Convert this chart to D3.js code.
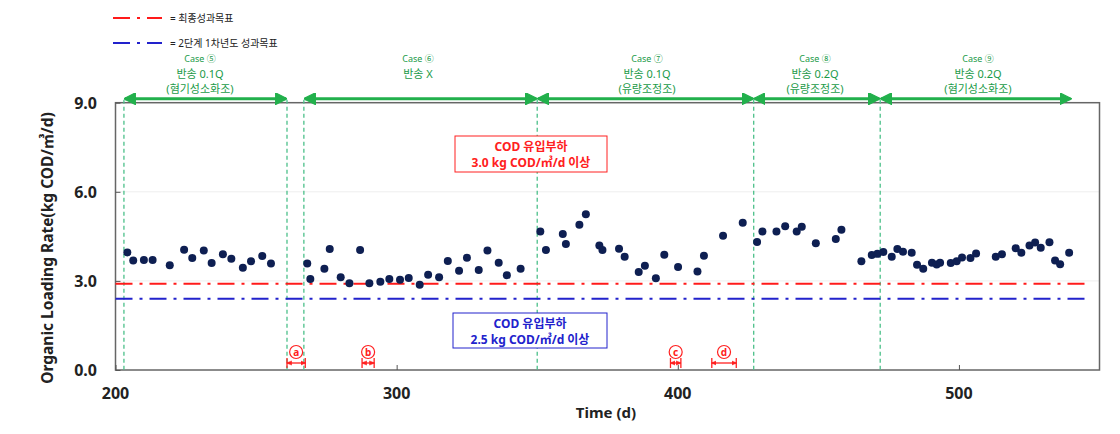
<!DOCTYPE html>
<html>
<head>
<meta charset="utf-8">
<script src="https://cdn.jsdelivr.net/npm/d3@7"></script>
<style>
  body { margin: 0; background: #fff; }
  text { font-family: "Noto Sans", "Noto Sans CJK KR", sans-serif; }
</style>
</head>
<body>
<svg width="1120" height="434"></svg>
<script>
// data
var days = [204.2, 206.3, 210.1, 213.2, 219.3, 224.4, 227.3, 231.4, 234.2, 238.2, 241.2, 245.3, 248.2, 252.2, 255.3,
  268.2, 269.3, 274.3, 276.2, 280.1, 283.2, 287.0, 290.3, 294.2, 297.4, 301.2, 304.3, 308.2, 311.2, 315.1,
  318.2, 322.2, 325.0, 329.2, 332.3, 336.3, 339.2, 344.1,
  351.1, 353.1, 359.1, 360.2, 365.0, 367.3, 372.1, 373.2, 379.1, 381.1, 386.1, 388.3, 392.2, 395.2, 400.1,
  407.0, 409.3, 416.1, 423.1,
  428.2, 430.1, 435.1, 438.2, 442.3, 444.1, 449.1, 456.2, 458.2, 465.3, 469.0, 471.0,
  473.1, 476.1, 478.1, 480.1, 483.2, 485.1, 487.3, 490.4, 492.1, 493.3, 497.1, 499.2, 501.1, 504.1, 506.1,
  513.1, 515.3, 520.2, 522.2, 525.1, 527.1, 529.1, 532.2, 534.2, 536.0, 539.2];
var olr = [3.96, 3.69, 3.70, 3.70, 3.53, 4.05, 3.77, 4.02, 3.60, 3.90, 3.75, 3.44, 3.66, 3.84, 3.59,
  3.59, 3.06, 3.41, 4.07, 3.12, 2.92, 4.04, 2.92, 2.97, 3.06, 3.04, 3.10, 2.87, 3.21, 3.12,
  3.67, 3.34, 3.78, 3.37, 4.02, 3.61, 3.19, 3.41,
  4.66, 4.04, 4.58, 4.24, 4.89, 5.24, 4.19, 4.04, 4.08, 3.81, 3.30, 3.51, 3.09, 3.88, 3.47,
  3.32, 3.85, 4.52, 4.96,
  4.31, 4.66, 4.66, 4.84, 4.66, 4.82, 4.27, 4.41, 4.72, 3.66, 3.87, 3.91,
  3.97, 3.81, 4.07, 3.98, 3.95, 3.54, 3.41, 3.61, 3.55, 3.61, 3.60, 3.66, 3.79, 3.77, 3.92,
  3.81, 3.90, 4.10, 3.95, 4.19, 4.29, 4.12, 4.30, 3.69, 3.56, 3.95];

var yTicks = [0, 3, 6, 9];
var xTicks = [200, 300, 400, 500];

var finalTarget = 2.9;   // red
var stageTarget = 2.4;   // blue

var caseStart = [203, 267, 350, 427, 472];
var caseEnd   = [261, 350, 427, 472, 540];
var caseLine  = [203, 261, 267, 350, 427, 472];
var caseNames = ["Case ⑤", "Case ⑥", "Case ⑦", "Case ⑧", "Case ⑨"];
var caseRet   = ["반송 0.1Q", "반송 X", "반송 0.1Q", "반송 0.2Q", "반송 0.2Q"];
var caseTank  = ["(혐기성소화조)", "", "(유량조정조)", "(유량조정조)", "(혐기성소화조)"];
var caseMid   = [200, 418, 647, 815, 978];

var markLabels = ["a", "b", "c", "d"];
var markStart  = [261, 287.7, 397.4, 412.1];
var markEnd    = [267.5, 292, 401.1, 420.8];

var svg = d3.select("svg");
var padL = 115.5, padR = 1099.5, plotTop = 102.7, plotBottom = 370;

var x = d3.scaleLinear().domain([200, 550]).range([padL, padR]);
var y = d3.scaleLinear().domain([0, 9]).range([plotBottom, plotTop]);

// faint gridlines
svg.selectAll(".grid").data([3, 6]).enter().append("line")
  .attr("x1", padL).attr("x2", padR)
  .attr("y1", function(d) { return y(d); }).attr("y2", function(d) { return y(d); })
  .attr("stroke", "#eeeeee").attr("stroke-width", 1);

// frame
svg.append("rect").attr("x", padL).attr("y", plotTop)
  .attr("width", padR - padL).attr("height", plotBottom - plotTop)
  .attr("fill", "none").attr("stroke", "#666").attr("stroke-width", 1.5);

// axes with inward ticks
var yAxis = svg.append("g").attr("transform", "translate(" + padL + ",0)")
  .call(d3.axisRight(y).tickValues(yTicks).tickSize(5).tickFormat(""));
yAxis.select(".domain").remove();
yAxis.selectAll("line").attr("stroke", "#555");

var xAxis = svg.append("g").attr("transform", "translate(0," + plotBottom + ")")
  .call(d3.axisTop(x).tickValues(xTicks).tickSize(5).tickFormat(""));
xAxis.select(".domain").remove();
xAxis.selectAll("line").attr("stroke", "#555");

svg.selectAll(".ylab").data(yTicks).enter().append("text")
  .attr("x", 97).attr("y", function(d) { return y(d) + 6; })
  .attr("text-anchor", "end").attr("font-size", 16).attr("font-weight", "bold").attr("fill", "#222")
  .text(function(d) { return d.toFixed(1); });

svg.selectAll(".xlab").data(xTicks).enter().append("text")
  .attr("x", function(d) { return x(d); }).attr("y", 399)
  .attr("text-anchor", "middle").attr("font-size", 16).attr("font-weight", "bold").attr("fill", "#222")
  .text(function(d) { return d; });

svg.append("text").attr("x", 606).attr("y", 418).attr("text-anchor", "middle")
  .attr("font-size", 15).attr("font-weight", "bold").attr("fill", "#222").text("Time (d)");

svg.append("text").attr("transform", "translate(53,248) rotate(-90)").attr("text-anchor", "middle")
  .attr("font-size", 15.5).attr("font-weight", "bold").attr("fill", "#222")
  .text("Organic Loading Rate(kg COD/㎥/d)");

// case boundaries
svg.selectAll(".vline").data(caseLine).enter().append("line")
  .attr("x1", function(d) { return x(d); }).attr("x2", function(d) { return x(d); })
  .attr("y1", plotTop - 3).attr("y2", plotBottom)
  .attr("stroke", "#4cc08a").attr("stroke-width", 1.3).attr("stroke-dasharray", "4,3");

// target lines
svg.append("line").attr("x1", padL).attr("x2", x(546))
  .attr("y1", y(finalTarget)).attr("y2", y(finalTarget))
  .attr("stroke", "#ff1a1a").attr("stroke-width", 2).attr("stroke-dasharray", "17,7,3,7");
svg.append("line").attr("x1", padL).attr("x2", x(546))
  .attr("y1", y(stageTarget)).attr("y2", y(stageTarget))
  .attr("stroke", "#2222cc").attr("stroke-width", 2).attr("stroke-dasharray", "17,7,3,7");

// arrows
var defs = svg.append("defs");
function marker(id, color, path) {
  defs.append("marker").attr("id", id).attr("viewBox", "0 0 10 10")
    .attr("refX", 9).attr("refY", 5).attr("markerWidth", 4).attr("markerHeight", 4)
    .attr("orient", "auto-start-reverse")
    .append("path").attr("d", path).attr("fill", color).attr("stroke", color);
}
marker("garrow", "#22b04c", "M0,0 L10,5 L0,10 z");
marker("rarrow", "#ff2020", "M0,1 L10,5 L0,9 z");

svg.selectAll(".carrow").data(caseStart).enter().append("line")
  .attr("x1", function(d) { return x(d) + 1; })
  .attr("x2", function(d, i) { return x(caseEnd[i]) - 1; })
  .attr("y1", plotTop - 4).attr("y2", plotTop - 4)
  .attr("stroke", "#22b04c").attr("stroke-width", 3)
  .attr("marker-start", "url(#garrow)").attr("marker-end", "url(#garrow)");

var caseG = svg.selectAll(".case").data(caseNames).enter().append("g")
  .attr("fill", "#1a9a48").attr("text-anchor", "middle");
caseG.append("text").attr("x", function(d, i) { return caseMid[i]; }).attr("y", 62)
  .attr("font-size", 9).text(function(d) { return d; });
caseG.append("text").attr("x", function(d, i) { return caseMid[i]; }).attr("y", 78)
  .attr("font-size", 11).text(function(d, i) { return caseRet[i]; });
caseG.append("text").attr("x", function(d, i) { return caseMid[i]; }).attr("y", 93)
  .attr("font-size", 11).text(function(d, i) { return caseTank[i]; });

// points
svg.selectAll(".pt").data(days).enter().append("circle")
  .attr("cx", function(d) { return x(d); })
  .attr("cy", function(d, i) { return y(olr[i]); })
  .attr("r", 4).attr("fill", "#0e1f52");

// event markers a-d
svg.selectAll(".mline").data(markStart).enter().append("line")
  .attr("x1", function(d) { return x(d); })
  .attr("x2", function(d, i) { return x(markEnd[i]); })
  .attr("y1", 363).attr("y2", 363)
  .attr("stroke", "#ff2020").attr("stroke-width", 1.3)
  .attr("marker-start", "url(#rarrow)").attr("marker-end", "url(#rarrow)");
svg.selectAll(".mbar").data(markStart.concat(markEnd)).enter().append("line")
  .attr("x1", function(d) { return x(d); }).attr("x2", function(d) { return x(d); })
  .attr("y1", 358).attr("y2", 368)
  .attr("stroke", "#ff2020").attr("stroke-width", 1.3);
svg.selectAll(".mcirc").data(markLabels).enter().append("circle")
  .attr("cx", function(d, i) { return x((markStart[i] + markEnd[i]) / 2); })
  .attr("cy", 352).attr("r", 6.5)
  .attr("fill", "#fff").attr("stroke", "#ff2020").attr("stroke-width", 1.2);
svg.selectAll(".mtext").data(markLabels).enter().append("text")
  .attr("x", function(d, i) { return x((markStart[i] + markEnd[i]) / 2); })
  .attr("y", 355.5).attr("text-anchor", "middle")
  .attr("font-size", 10).attr("font-weight", "bold").attr("fill", "#ff2020")
  .text(function(d) { return d; });

// annotation boxes
function box(x0, y0, w, h, color, lines) {
  svg.append("rect").attr("x", x0).attr("y", y0).attr("width", w).attr("height", h)
    .attr("fill", "#fff").attr("stroke", color).attr("stroke-width", 1);
  lines.forEach(function(t, i) {
    svg.append("text").attr("x", x0 + w / 2).attr("y", y0 + 15 + i * 16)
      .attr("text-anchor", "middle").attr("font-size", 12).attr("font-weight", "bold")
      .attr("fill", color).text(t);
  });
}
box(455, 136, 152, 36, "#ff2020", ["COD 유입부하", "3.0 kg COD/㎥/d 이상"]);
box(453, 313, 154, 35, "#2222cc", ["COD 유입부하", "2.5 kg COD/㎥/d 이상"]);

// legend
var legColors = ["#ff1a1a", "#2222cc"];
var legText = ["= 최종성과목표", "= 2단계 1차년도 성과목표"];
svg.selectAll(".leg").data(legText).enter().append("line")
  .attr("x1", 113).attr("x2", 162)
  .attr("y1", function(d, i) { return 18 + i * 25; }).attr("y2", function(d, i) { return 18 + i * 25; })
  .attr("stroke", function(d, i) { return legColors[i]; }).attr("stroke-width", 2)
  .attr("stroke-dasharray", "17,7,3,7");
svg.selectAll(".legt").data(legText).enter().append("text")
  .attr("x", 170).attr("y", function(d, i) { return 22 + i * 25; })
  .attr("font-size", 10).attr("fill", "#222").text(function(d) { return d; });
</script>
</body>
</html>
